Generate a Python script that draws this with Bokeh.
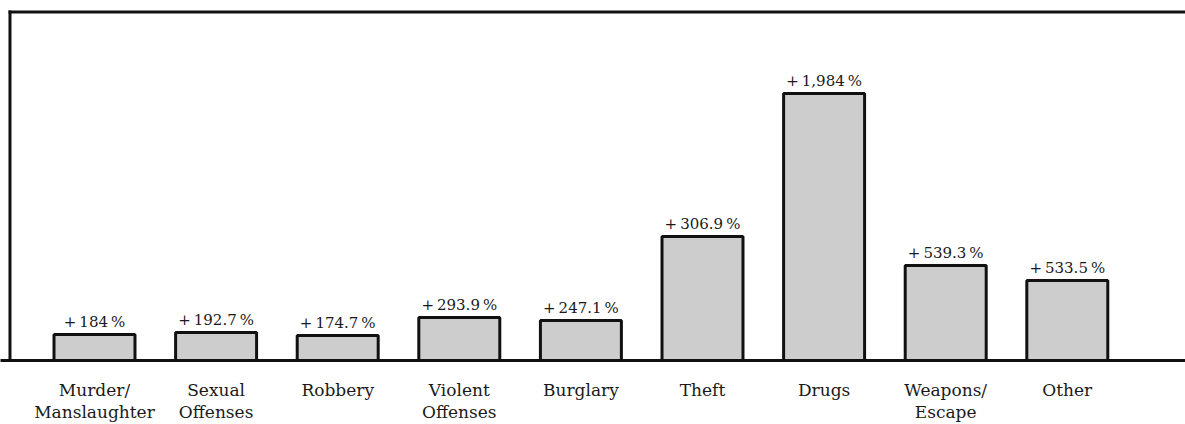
from bokeh.plotting import figure
from bokeh.models import Range1d, FixedTicker, ColumnDataSource
from bokeh.core.properties import value
from bokeh.embed import file_html
from bokeh.resources import INLINE

categories = ["Murder/\nManslaughter", "Sexual\nOffenses", "Robbery", "Violent\nOffenses",
              "Burglary", "Theft", "Drugs", "Weapons/\nEscape", "Other"]
# relative bar heights (arbitrary units, as drawn)
heights = [26, 28, 25, 43, 40, 124, 267, 95, 80]
pct_labels = ["+\u2009184\u2009%", "+\u2009192.7\u2009%", "+\u2009174.7\u2009%",
              "+\u2009293.9\u2009%", "+\u2009247.1\u2009%", "+\u2009306.9\u2009%",
              "+\u20091,984\u2009%", "+\u2009539.3\u2009%", "+\u2009533.5\u2009%"]

xs = list(range(len(categories)))
src = ColumnDataSource(dict(x=xs, top=heights, lab=pct_labels,
                            ly=[h + 4 for h in heights]))

X0, X1, Y1 = -0.773, 8.972, 360
p = figure(width=1185, height=424, output_backend="svg", toolbar_location=None,
           x_range=Range1d(X0, X1), y_range=Range1d(0, Y1),
           min_border_left=0, min_border_right=0, min_border_top=0, min_border_bottom=64)
p.outline_line_color = None
p.grid.visible = False
p.yaxis.visible = False

p.vbar(x="x", top="top", bottom=0, width=0.666, source=src,
       fill_color="#cdcdcd", line_color="#111111", line_width=3)
p.text(x="x", y="ly", text="lab", source=src, text_align="center", text_baseline="bottom",
       text_font=value("DejaVu Serif"), text_font_size="15px", text_color="#1a1a1a")

# frame: top rule and left rule
p.segment(x0=[-0.707, -0.695], y0=[348.5, 0], x1=[X1, -0.695], y1=[348.5, 350],
          line_color="#111111", line_width=3)

ax = p.xaxis[0]
ax.ticker = FixedTicker(ticks=xs)
ax.major_label_overrides = {i: c for i, c in enumerate(categories)}
ax.axis_line_width = 3
ax.axis_line_color = "#111111"
ax.major_tick_line_color = None
ax.minor_tick_line_color = None
ax.major_label_standoff = 13
ax.major_label_text_font = "DejaVu Serif"
ax.major_label_text_font_size = "17px"
ax.major_label_text_color = "#1a1a1a"
ax.major_label_text_line_height = 1.1

open("out.html", "w").write(file_html(p, INLINE))
